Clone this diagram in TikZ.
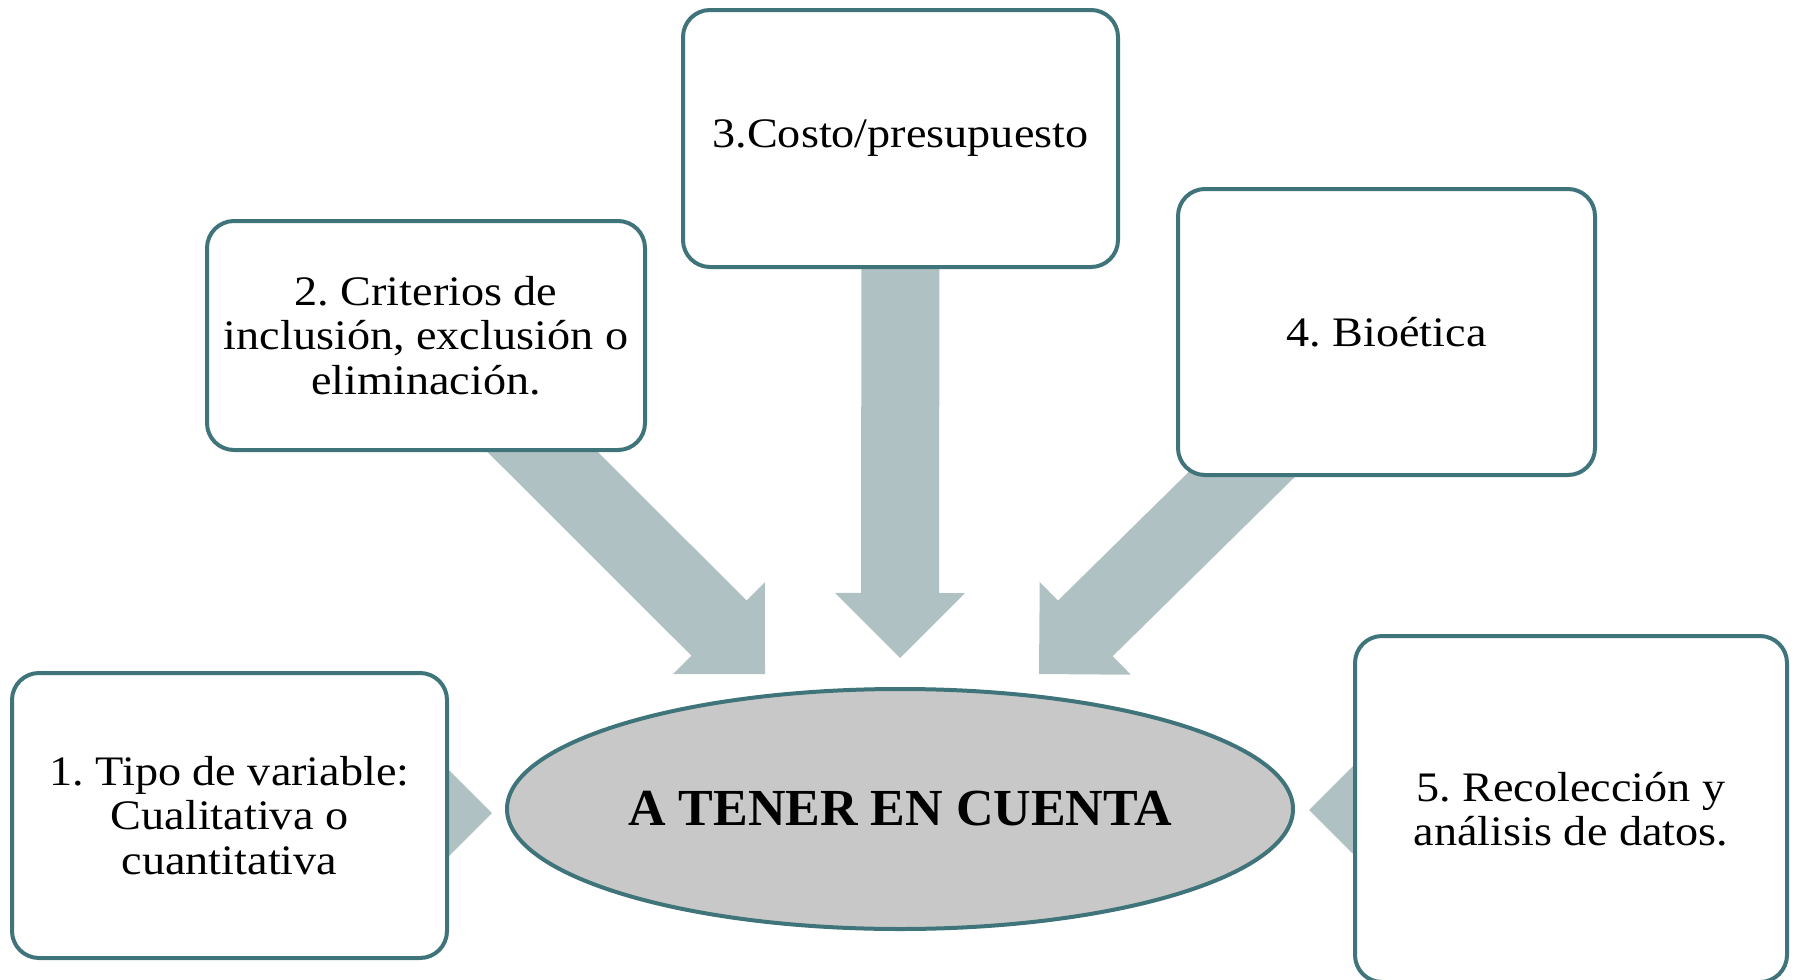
\documentclass[tikz,border=0pt]{standalone}
\usepackage{fontspec}
\setmainfont{Liberation Serif}[FakeStretch=1.1]
\newfontfamily\titlefont{Liberation Serif}
\usetikzlibrary{shapes.geometric,backgrounds,calc}
\definecolor{edgecol}{HTML}{3E747A}
\definecolor{arrowcol}{HTML}{B0C1C3}
\definecolor{ellcol}{HTML}{C8C8C8}
\frenchspacing
\newcommand\blockarr[2]{%
  \coordinate (tmpB) at ($(#2)!32.5pt!(#1)$);
  \fill[arrowcol] ($(#1)!19.5pt!90:(#2)$) -- ($(tmpB)!19.5pt!90:(#2)$)
    -- ($(tmpB)!32.5pt!90:(#2)$) -- (#2) -- ($(tmpB)!32.5pt!-90:(#2)$)
    -- ($(tmpB)!19.5pt!-90:(#2)$) -- ($(#1)!19.5pt!-90:(#2)$) -- cycle;}
\begin{document}
\begin{tikzpicture}[x=0.5pt,y=-0.5pt,
  box/.style={draw=edgecol, line width=2pt, fill=white, rounded corners=13.5pt,
    align=center, inner sep=0pt, font=\fontsize{21pt}{22.25pt}\selectfont},
  centre/.style={ellipse, draw=edgecol, line width=2pt, fill=ellcol, inner sep=0pt,
    font=\titlefont\bfseries\fontsize{26pt}{30pt}\selectfont}]
\useasboundingbox (0,0) rectangle (1795,980);
\clip (0,0) rectangle (1795,980);
\node[box, minimum width=217.5pt, minimum height=142.5pt] (b1) at (229.5,815.5)
  {1. Tipo de variable:\\ Cualitativa o\\ cuantitativa};
\node[box, minimum width=219pt, minimum height=114.5pt] (b2) at (426,335.5)
  {2. Criterios de\\ inclusión, exclusión o\\ eliminación.};
\node[box, minimum width=217.5pt, minimum height=128.5pt] (b3) at (900.5,138.5)
  {3.Costo/presupuesto};
\node[box, minimum width=208.5pt, minimum height=143pt] (b4) at (1386.5,332)
  {4. Bioética};
\node[box, minimum width=216pt, minimum height=173pt] (b5) at (1571,809)
  {5. Recolección y\\ análisis de datos.};
\node[centre, minimum width=393pt, minimum height=120pt] (c) at (900,809)
  {A TENER EN CUENTA};
\coordinate (tL) at (765,674);
\coordinate (tM) at (900,658);
\coordinate (tR) at (1039,674);
\coordinate (t1) at (492,813);
\coordinate (t5) at (1309,810);
\begin{pgfonlayer}{background}
  \blockarr{b2.center}{tL}
  \blockarr{b3.center}{tM}
  \blockarr{b4.center}{tR}
  \fill[arrowcol] ($(t1)+(-72,-72)$) -- (t1) -- ($(t1)+(-72,72)$) -- cycle;
  \fill[arrowcol] ($(t5)+(72,-72)$) -- (t5) -- ($(t5)+(72,72)$) -- cycle;
\end{pgfonlayer}
\end{tikzpicture}
\end{document}
